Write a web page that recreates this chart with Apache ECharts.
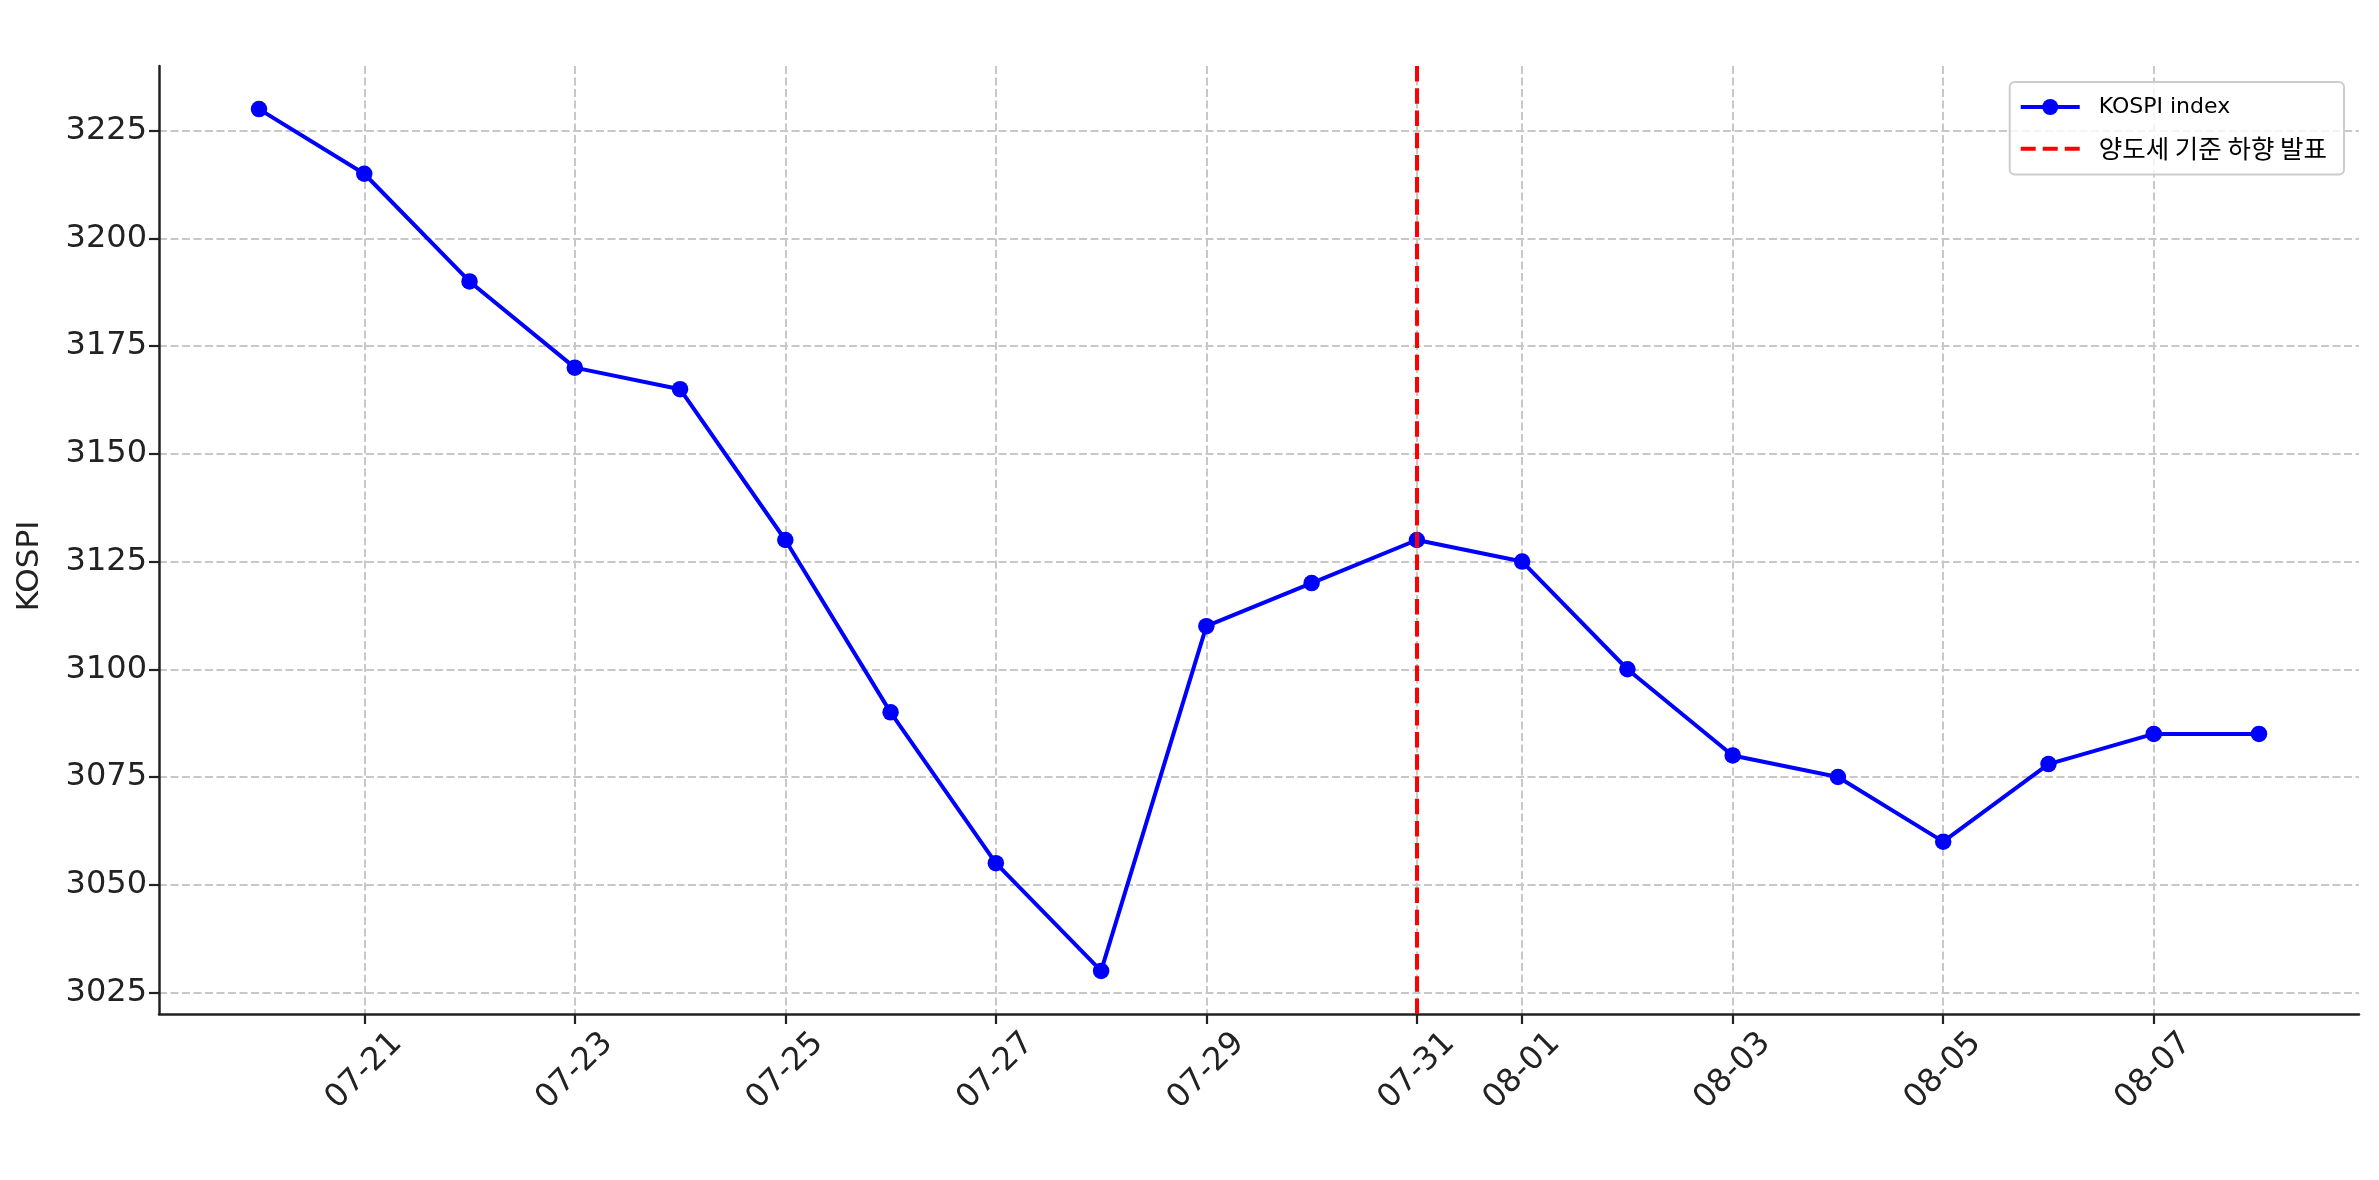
<!DOCTYPE html>
<html>
<head>
<meta charset="utf-8">
<script src="https://cdn.jsdelivr.net/npm/echarts@6/dist/echarts.min.js"></script>
<style>html,body{margin:0;padding:0;background:#fff}#c{width:2379px;height:1180px}</style>
</head>
<body>
<div id="c"></div>
<script>
const dates = ['07-20','07-21','07-22','07-23','07-24','07-25','07-26','07-27','07-28','07-29','07-30','07-31','08-01','08-02','08-03','08-04','08-05','08-06','08-07','08-08'];
const kospi = [3230,3215,3190,3170,3165,3130,3090,3055,3030,3110,3120,3130,3125,3100,3080,3075,3060,3078,3085,3085];
const xTickDates = ['07-21','07-23','07-25','07-27','07-29','07-31','08-01','08-03','08-05','08-07'];
const yTicks = [3025,3050,3075,3100,3125,3150,3175,3200,3225];
const announceDate = '07-31';
const seriesNames = ['KOSPI index', '양도세 기준 하향 발표'];
const yName = 'KOSPI';

const FONT = "'DejaVu Sans', 'Noto Sans CJK KR', sans-serif";
const idx = d => dates.indexOf(d);
const points = kospi.map((v, i) => [i, v]);
const gridLine = {show: true, lineStyle: {color: '#c8c8c8', width: 2, type: [8, 3.5]}};

const chart = echarts.init(document.getElementById('c'), null, {renderer: 'canvas'});
chart.setOption({
  animation: false,
  backgroundColor: '#fff',
  grid: {left: 159, right: 20, top: 66, bottom: 166, containLabel: false},
  legend: {
    orient: 'vertical', right: 35, top: 82,
    padding: [14, 17, 13, 9],
    itemWidth: 59, itemHeight: 20, itemGap: 18,
    backgroundColor: 'rgba(255,255,255,0.8)',
    borderColor: '#cccccc', borderWidth: 2, borderRadius: 5,
    textStyle: {
      fontFamily: FONT, fontSize: 22, color: '#000',
      rich: {
        a: {fontFamily: FONT, fontSize: 22, color: '#000', padding: [0, 0, 0, 14]},
        k: {fontFamily: "'Noto Sans CJK KR', sans-serif", fontSize: 25.5, color: '#000', padding: [0, 0, 0, 14]}
      }
    },
    formatter: n => n === seriesNames[0] ? '{a|' + n + '}' : '{k|' + n + '}',
    data: [
      {name: seriesNames[0], lineStyle: {width: 4, color: '#0000ff'}},
      {name: seriesNames[1], itemStyle: {opacity: 0}, lineStyle: {width: 4, color: '#ff0000', type: [15, 7]}}
    ]
  },
  xAxis: {
    type: 'value', min: -0.95, max: 19.95,
    axisLine: {show: true, onZero: false, lineStyle: {color: '#222', width: 2.5}},
    axisTick: {show: true, length: 10, lineStyle: {color: '#222', width: 2.2}, customValues: xTickDates.map(idx)},
    axisLabel: {
      customValues: xTickDates.map(idx),
      formatter: v => dates[Math.round(v)],
      rotate: 45, align: 'center', verticalAlign: 'middle', margin: 57,
      fontFamily: FONT, fontSize: 32, color: '#222', hideOverlap: false
    },
    splitLine: gridLine
  },
  yAxis: {
    type: 'value', min: 3020, max: 3240,
    name: yName, nameLocation: 'middle', nameGap: 114, nameRotate: 90,
    nameTextStyle: {fontFamily: FONT, fontSize: 31, color: '#222', padding: [0, 52, 0, 0]},
    axisLine: {show: true, onZero: false, lineStyle: {color: '#222', width: 2.5}},
    axisTick: {show: true, length: 10, lineStyle: {color: '#222', width: 2.2}, customValues: yTicks},
    axisLabel: {customValues: yTicks, formatter: v => String(v), margin: 12, fontFamily: FONT, fontSize: 32, color: '#222'},
    splitLine: gridLine
  },
  series: [
    {
      name: seriesNames[0], type: 'line', data: points,
      symbol: 'circle', symbolSize: 16.5, showSymbol: true,
      itemStyle: {color: '#0000ff'},
      lineStyle: {color: '#0000ff', width: 4},
      z: 3
    },
    {
      name: seriesNames[1], type: 'line', data: [],
      symbol: 'none',
      itemStyle: {color: '#ff0000'},
      lineStyle: {color: '#ff0000', width: 4, type: [15.5, 6.7]},
      z: 4,
      markLine: {
        silent: true, symbol: 'none', label: {show: false},
        lineStyle: {color: '#ff0000', width: 4, type: [15.5, 6.7]},
        data: [{xAxis: idx(announceDate)}]
      }
    }
  ]
});
</script>
</body>
</html>
